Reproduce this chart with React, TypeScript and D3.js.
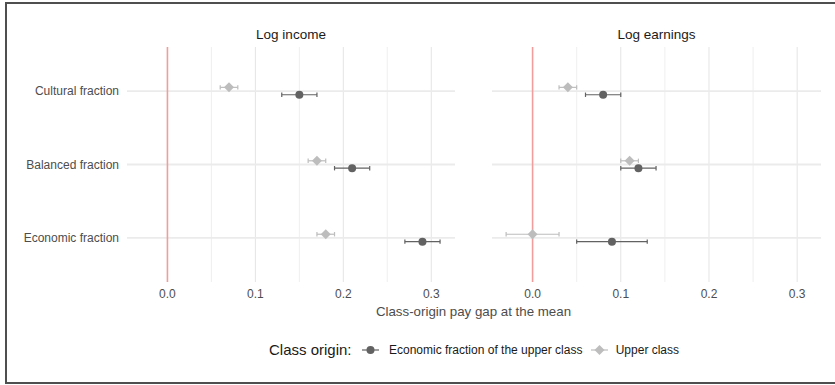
import React from "react";
import * as d3 from "d3";

// categories (top to bottom) and facet titles
const categories = ["Cultural fraction", "Balanced fraction", "Economic fraction"];
const panels = ["Log income", "Log earnings"];
const groups = ["Economic fraction of the upper class", "Upper class"];
const xTicks = [0, 0.1, 0.2, 0.3];
const xMinor = [0.05, 0.15, 0.25];

// estimates [est, lo, hi] per category, per panel
const incomeEconomic = [
  [0.15, 0.13, 0.17],
  [0.21, 0.19, 0.23],
  [0.29, 0.27, 0.31],
];
const incomeUpper = [
  [0.07, 0.06, 0.08],
  [0.17, 0.16, 0.18],
  [0.18, 0.17, 0.19],
];
const earningsEconomic = [
  [0.08, 0.06, 0.1],
  [0.12, 0.1, 0.14],
  [0.09, 0.05, 0.13],
];
const earningsUpper = [
  [0.04, 0.03, 0.05],
  [0.11, 0.1, 0.12],
  [0.0, -0.03, 0.03],
];

const panelData = [
  [incomeEconomic, incomeUpper],
  [earningsEconomic, earningsUpper],
];

const W = 835;
const H = 385;
const top = 47;
const bottom = 282;
const panelX = [
  [127, 455],
  [492, 821],
];
const FONT = "'Liberation Sans', Arial, sans-serif";
const dark = "#626262";
const light = "#bdbdbd";
const colors = [dark, light];
const fmt = d3.format(".1f");

const y = d3.scalePoint<string>().domain(categories).range([top, bottom]).padding(0.6);
const dodge = d3.scalePoint<string>().domain(["Upper class", "Economic fraction of the upper class"]).range([-3.7, 3.7]);

function Marker({ shape, cx, cy, color }: { shape: number; cx: number; cy: number; color: string }) {
  if (shape === 0) return <circle cx={cx} cy={cy} r={4} fill={color} />;
  const s = 5;
  return (
    <path
      d={`M${cx},${cy - s}L${cx + s},${cy}L${cx},${cy + s}L${cx - s},${cy}Z`}
      fill={color}
    />
  );
}

function Panel({ idx }: { idx: number }) {
  const [x0, x1] = panelX[idx];
  const x = d3.scaleLinear().domain([-0.046, 0.327]).range([x0, x1]);
  const series = panelData[idx];
  return (
    <g>
      {xMinor.map((t) => (
        <line key={"m" + t} x1={x(t)} x2={x(t)} y1={top} y2={bottom} stroke="#ededed" strokeWidth={0.9} />
      ))}
      {xTicks.map((t) => (
        <line key={"M" + t} x1={x(t)} x2={x(t)} y1={top} y2={bottom} stroke="#e4e4e4" strokeWidth={1} />
      ))}
      {categories.map((c) => (
        <line key={c} x1={x0} x2={x1} y1={y(c)} y2={y(c)} stroke="#ebebeb" strokeWidth={1.8} />
      ))}
      <line x1={x(0)} x2={x(0)} y1={top} y2={bottom} stroke="#f29c9c" strokeWidth={1.6} />
      {series.map((rows, gi) =>
        rows.map((r, ci) => {
          const cy = (y(categories[ci]) as number) + (dodge(groups[gi]) as number);
          const col = colors[gi];
          return (
            <g key={gi + "-" + ci}>
              <line x1={x(r[1])} x2={x(r[2])} y1={cy} y2={cy} stroke={col} strokeWidth={1.2} />
              <line x1={x(r[1])} x2={x(r[1])} y1={cy - 2.2} y2={cy + 2.2} stroke={col} strokeWidth={1.2} />
              <line x1={x(r[2])} x2={x(r[2])} y1={cy - 2.2} y2={cy + 2.2} stroke={col} strokeWidth={1.2} />
              <Marker shape={gi} cx={x(r[0])} cy={cy} color={col} />
            </g>
          );
        })
      )}
      <text x={(x0 + x1) / 2} y={39} textAnchor="middle" fontSize={13.5} fill="#1a1a1a">
        {panels[idx]}
      </text>
      {xTicks.map((t) => (
        <text key={"t" + t} x={x(t)} y={298} textAnchor="middle" fontSize={12} fill="#4d4d4d">
          {fmt(t)}
        </text>
      ))}
    </g>
  );
}

export default function App() {
  return (
    <svg
      width={W}
      height={H}
      style={{ position: "fixed", left: 0, top: 0, background: "#fff" }}
      fontFamily={FONT}
    >
      <rect x={0} y={0} width={W} height={H} fill="#fff" />
      <rect x={6} y={3} width={W + 10} height={380} fill="none" stroke="#4f4f4f" strokeWidth={2} />
      {categories.map((c) => (
        <text key={c} x={119} y={(y(c) as number) + 4.2} textAnchor="end" fontSize={12} fill="#4d4d4d">
          {c}
        </text>
      ))}
      <Panel idx={0} />
      <Panel idx={1} />
      <text x={473.5} y={316} textAnchor="middle" fontSize={13.3} fill="#4d4d4d">
        Class-origin pay gap at the mean
      </text>
      <g>
        <text x={269} y={355.3} fontSize={15} fill="#1a1a1a">
          Class origin:
        </text>
        {groups.map((g, i) => {
          const kx = i === 0 ? 370.5 : 599.5;
          const tx = i === 0 ? 389 : 615.7;
          return (
            <g key={g}>
              <line x1={kx - 8.5} x2={kx + 8.5} y1={350} y2={350} stroke={colors[i]} strokeWidth={1.2} />
              <Marker shape={i} cx={kx} cy={350} color={colors[i]} />
              <text x={tx} y={354.3} fontSize={12} fill="#1a1a1a">
                {g}
              </text>
            </g>
          );
        })}
      </g>
    </svg>
  );
}
